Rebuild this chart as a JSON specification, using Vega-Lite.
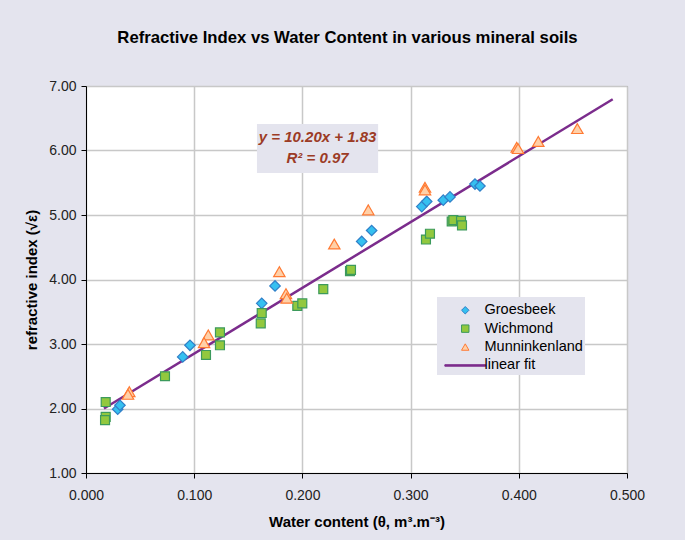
{
  "$schema": "https://vega.github.io/schema/vega-lite/v6.json",
  "width": 541,
  "height": 387,
  "autosize": {"type": "none"},
  "padding": {"left": 86, "top": 86, "right": 58, "bottom": 67},
  "background": "#E4E4EE",
  "title": {
    "text": "Refractive Index vs Water Content in various mineral soils",
    "font": "Liberation Sans",
    "fontSize": 16.7,
    "fontWeight": "bold",
    "color": "#000000",
    "anchor": "middle",
    "dx": -9,
    "offset": 32
  },
  "datasets": {
    "soils": [
      {"series": "Groesbeek", "theta": 0.0293, "n": 1.99},
      {"series": "Groesbeek", "theta": 0.0314, "n": 2.05},
      {"series": "Groesbeek", "theta": 0.0894, "n": 2.80},
      {"series": "Groesbeek", "theta": 0.0961, "n": 2.98},
      {"series": "Groesbeek", "theta": 0.1624, "n": 3.63},
      {"series": "Groesbeek", "theta": 0.1747, "n": 3.90},
      {"series": "Groesbeek", "theta": 0.2548, "n": 4.59},
      {"series": "Groesbeek", "theta": 0.2640, "n": 4.76},
      {"series": "Groesbeek", "theta": 0.3103, "n": 5.13},
      {"series": "Groesbeek", "theta": 0.3149, "n": 5.21},
      {"series": "Groesbeek", "theta": 0.3302, "n": 5.23},
      {"series": "Groesbeek", "theta": 0.3364, "n": 5.28},
      {"series": "Groesbeek", "theta": 0.3595, "n": 5.48},
      {"series": "Groesbeek", "theta": 0.3641, "n": 5.45},
      {"series": "Wichmond", "theta": 0.0182, "n": 2.10},
      {"series": "Wichmond", "theta": 0.0182, "n": 1.87},
      {"series": "Wichmond", "theta": 0.0176, "n": 1.82},
      {"series": "Wichmond", "theta": 0.0730, "n": 2.50},
      {"series": "Wichmond", "theta": 0.1109, "n": 2.83},
      {"series": "Wichmond", "theta": 0.1238, "n": 3.18},
      {"series": "Wichmond", "theta": 0.1238, "n": 2.98},
      {"series": "Wichmond", "theta": 0.1615, "n": 3.32},
      {"series": "Wichmond", "theta": 0.1624, "n": 3.48},
      {"series": "Wichmond", "theta": 0.1953, "n": 3.59},
      {"series": "Wichmond", "theta": 0.1999, "n": 3.63},
      {"series": "Wichmond", "theta": 0.2193, "n": 3.85},
      {"series": "Wichmond", "theta": 0.2440, "n": 4.13},
      {"series": "Wichmond", "theta": 0.2449, "n": 4.15},
      {"series": "Wichmond", "theta": 0.3142, "n": 4.62},
      {"series": "Wichmond", "theta": 0.3179, "n": 4.71},
      {"series": "Wichmond", "theta": 0.3380, "n": 4.90},
      {"series": "Wichmond", "theta": 0.3395, "n": 4.92},
      {"series": "Wichmond", "theta": 0.3466, "n": 4.91},
      {"series": "Wichmond", "theta": 0.3475, "n": 4.84},
      {"series": "Munninkenland", "theta": 0.0400, "n": 2.26},
      {"series": "Munninkenland", "theta": 0.0388, "n": 2.22},
      {"series": "Munninkenland", "theta": 0.1130, "n": 3.14},
      {"series": "Munninkenland", "theta": 0.1091, "n": 3.02},
      {"series": "Munninkenland", "theta": 0.1787, "n": 4.12},
      {"series": "Munninkenland", "theta": 0.1848, "n": 3.78},
      {"series": "Munninkenland", "theta": 0.1855, "n": 3.71},
      {"series": "Munninkenland", "theta": 0.2295, "n": 4.55},
      {"series": "Munninkenland", "theta": 0.2609, "n": 5.08},
      {"series": "Munninkenland", "theta": 0.3133, "n": 5.43},
      {"series": "Munninkenland", "theta": 0.3133, "n": 5.39},
      {"series": "Munninkenland", "theta": 0.3981, "n": 6.05},
      {"series": "Munninkenland", "theta": 0.3993, "n": 6.03},
      {"series": "Munninkenland", "theta": 0.4180, "n": 6.14},
      {"series": "Munninkenland", "theta": 0.4541, "n": 6.34}
    ],
    "fit": [
      {"theta": 0.0166, "n": 2.00},
      {"theta": 0.4868, "n": 6.795}
    ]
  },
  "layer": [
    {
      "data": {"name": "fit"},
      "mark": {"type": "line", "color": "#7B2C8C", "strokeWidth": 2.5},
      "encoding": {
        "x": {
          "field": "theta",
          "type": "quantitative",
          "title": "Water content (θ, m³.m⁻³)",
          "scale": {"domain": [0, 0.5], "nice": false, "zero": false, "padding": 0},
          "axis": {"values": [0, 0.1, 0.2, 0.3, 0.4, 0.5], "format": ".3f", "titlePadding": 12, "labelPadding": 10, "labelFlush": false}
        },
        "y": {
          "field": "n",
          "type": "quantitative",
          "title": "refractive index (√ε)",
          "scale": {"domain": [1, 7], "nice": false, "zero": false, "padding": 0},
          "axis": {"values": [1, 2, 3, 4, 5, 6, 7], "format": ".2f", "titlePadding": 9, "labelPadding": 5, "labelFlush": false}
        }
      }
    },
    {
      "data": {"name": "soils"},
      "transform": [{"filter": "datum.series === 'Groesbeek'"}],
      "mark": {"type": "point", "filled": true, "size": 110, "strokeWidth": 1.2, "opacity": 1},
      "encoding": {
        "x": {"field": "theta", "type": "quantitative"},
        "y": {"field": "n", "type": "quantitative"},
        "fill": {"field": "series", "type": "nominal", "scale": {"domain": ["Groesbeek", "Wichmond", "Munninkenland", "linear fit"], "range": ["#35C0F0", "#92C83E", "#FFD0A8", "#7B2C8C"]}},
        "stroke": {"field": "series", "type": "nominal", "scale": {"domain": ["Groesbeek", "Wichmond", "Munninkenland", "linear fit"], "range": ["#2F7FC8", "#3C9A5C", "#FF7A33", "#7B2C8C"]}},
        "shape": {"field": "series", "type": "nominal", "scale": {"domain": ["Groesbeek", "Wichmond", "Munninkenland", "linear fit"], "range": ["diamond", "square", "triangle-up", "M-5.5,-0.2L5.5,-0.2L5.5,0.2L-5.5,0.2Z"]}}
      }
    },
    {
      "data": {"name": "soils"},
      "transform": [{"filter": "datum.series === 'Wichmond'"}],
      "mark": {"type": "point", "filled": true, "size": 80, "strokeWidth": 1.2, "opacity": 1},
      "encoding": {
        "x": {"field": "theta", "type": "quantitative"},
        "y": {"field": "n", "type": "quantitative"},
        "fill": {"field": "series", "type": "nominal"},
        "stroke": {"field": "series", "type": "nominal"},
        "shape": {"field": "series", "type": "nominal"}
      }
    },
    {
      "data": {"name": "soils"},
      "transform": [{"filter": "datum.series === 'Munninkenland'"}],
      "mark": {"type": "point", "filled": true, "size": 130, "strokeWidth": 1.2, "opacity": 1},
      "encoding": {
        "x": {"field": "theta", "type": "quantitative"},
        "y": {"field": "n", "type": "quantitative"},
        "fill": {"field": "series", "type": "nominal"},
        "stroke": {"field": "series", "type": "nominal"},
        "shape": {"field": "series", "type": "nominal"}
      }
    },
    {
      "data": {"values": [{}]},
      "mark": {"type": "rect", "fill": "#E4E4EE"},
      "encoding": {
        "x": {"datum": 0.158, "type": "quantitative"},
        "x2": {"datum": 0.270},
        "y": {"datum": 6.41, "type": "quantitative"},
        "y2": {"datum": 5.65}
      }
    },
    {
      "data": {"values": [{}]},
      "mark": {"type": "rect", "fill": "#E4E4EE"},
      "encoding": {
        "x": {"datum": 0.3244, "type": "quantitative"},
        "x2": {"datum": 0.4612},
        "y": {"datum": 3.729, "type": "quantitative"},
        "y2": {"datum": 2.519}
      }
    },
    {
      "data": {"values": [{}]},
      "mark": {"type": "text", "text": "y = 10.20x + 1.83", "font": "Liberation Sans", "fontSize": 15, "fontWeight": "bold", "fontStyle": "italic", "color": "#9C3B25", "align": "center", "baseline": "middle"},
      "encoding": {
        "x": {"datum": 0.214, "type": "quantitative"},
        "y": {"datum": 6.21, "type": "quantitative"}
      }
    },
    {
      "data": {"values": [{}]},
      "mark": {"type": "text", "text": "R² = 0.97", "font": "Liberation Sans", "fontSize": 15, "fontWeight": "bold", "fontStyle": "italic", "color": "#9C3B25", "align": "center", "baseline": "middle"},
      "encoding": {
        "x": {"datum": 0.214, "type": "quantitative"},
        "y": {"datum": 5.88, "type": "quantitative"}
      }
    }
  ],
  "config": {
    "scale": {"continuousPadding": 0},
    "view": {"stroke": "#888888", "strokeWidth": 1, "fill": "#FFFFFF"},
    "axis": {
      "domainColor": "#000000",
      "domainWidth": 1,
      "tickColor": "#000000",
      "tickSize": 5,
      "labelFont": "Liberation Sans",
      "labelFontSize": 14,
      "labelColor": "#222222",
      "gridColor": "#C8C8C8",
      "gridWidth": 1.5,
      "titleFont": "Liberation Sans",
      "titleFontSize": 15,
      "titleFontWeight": "bold",
      "titleColor": "#000000"
    },
    "legend": {
      "orient": "none",
      "legendX": 372,
      "legendY": 217,
      "title": null,
      "padding": 0,
      "symbolSize": 55,
      "symbolStrokeWidth": 1,
      "labelFont": "Liberation Sans",
      "labelFontSize": 14.5,
      "labelColor": "#000000",
      "labelOffset": 12,
      "rowPadding": 3.4
    }
  }
}
